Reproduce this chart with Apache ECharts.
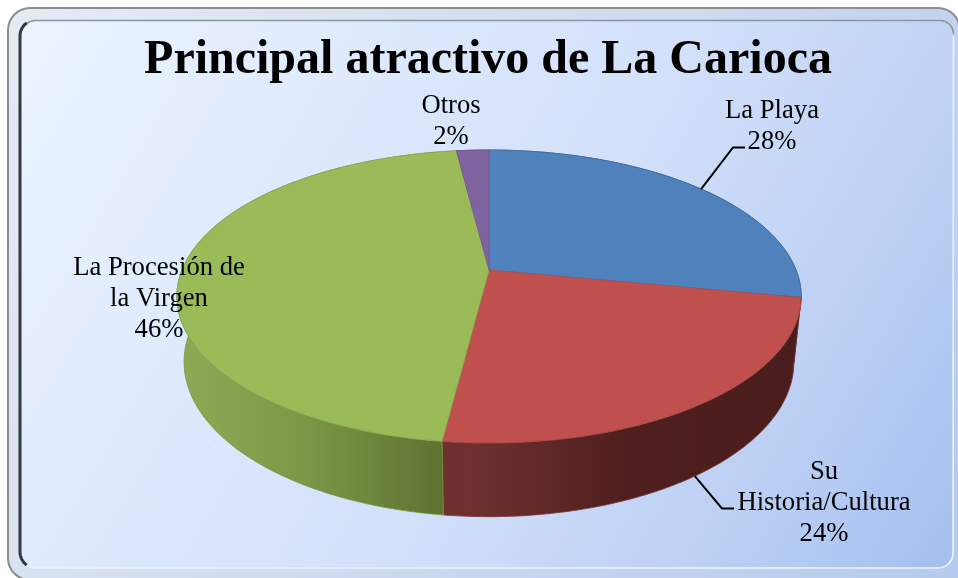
<!DOCTYPE html>
<html>
<head>
<meta charset="utf-8">
<style>html,body{margin:0;padding:0;background:#fff}#c{width:958px;height:578px}</style>
<script src="https://cdn.jsdelivr.net/npm/echarts@6/dist/echarts.min.js"></script>
</head>
<body>
<div id="c"></div>
<script>
// ---- data ----
const chartTitle = 'Principal atractivo de La Carioca';
const sliceNames = ['La Playa', 'Su\nHistoria/Cultura', 'La Procesión de\nla Virgen', 'Otros'];
const sliceValues = [28, 24, 46, 2];

// ---- styles ----
const topColors = ['#4f81bd', '#c0504d', '#9bbb59', '#8064a2'];
const edgeColors = ['#48719f', '#a84a48', '#8aa850', '#6f5a90'];
const wallStops = [
  [[0, '#2a4565'], [1, '#2a4565']],
  [[0, '#6e302e'], [0.08, '#6f312f'], [0.5, '#4f201f'], [1, '#4a1d1c']],
  [[0, '#8fa954'], [0.45, '#7f9848'], [1, '#5e7231']],
  [[0, '#44355a'], [1, '#44355a']]
];
const wallSpan = [[700, 810], [443, 800], [180, 443], [440, 490]];
const wallEdge = ['#2a4565', '#7a3533', '#78963f', '#44355a'];

// ---- layout of the tilted pie (perspective projection) ----
const P = { cx: 489, cy: 270, a: 307, b: 141.7, k: -0.181, depth: 66, m: 0.023 };
const labelLayout = [
  { x: 772, y: 126, leader: [[733, 147.5], [745, 147.5]], onWall: false },
  { x: 824, y: 502.5, leader: [[722, 508.5], [734, 508.5]], onWall: true },
  { x: 159, y: 298.5 },
  { x: 451, y: 121 }
];
const total = sliceValues.reduce((s, v) => s + v, 0);
const font = "'Liberation Serif','Times New Roman',serif";

function project(theta, z) {
  const X = Math.sin(theta), Y = -Math.cos(theta);
  const w = 1 + P.k * Y + (z ? P.m : 0);
  return [P.cx + P.a * X / w, P.cy + (P.b * Y + (z ? P.depth : 0)) / w];
}
function sliceRange(i) {
  let s = 0;
  for (let n = 0; n < i; n++) s += sliceValues[n];
  return [s / total * 2 * Math.PI, (s + sliceValues[i]) / total * 2 * Math.PI];
}
function arc(t0, t1, z) {
  const n = Math.max(2, Math.ceil((t1 - t0) / (Math.PI / 240)));
  const pts = [];
  for (let i = 0; i <= n; i++) pts.push(project(t0 + (t1 - t0) * i / n, z));
  return pts;
}

function wallItem(params, api) {
  const i = params.dataIndex;
  const [t0, t1] = sliceRange(i);
  const span = wallSpan[i];
  const points = arc(t0, t1, 0).concat(arc(t0, t1, 1).reverse());
  return {
    type: 'polygon', silent: true,
    shape: { points },
    style: {
      fill: { type: 'linear', x: span[0], y: 0, x2: span[1], y2: 0, global: true,
        colorStops: wallStops[i].map(s => ({ offset: s[0], color: s[1] })) },
      stroke: wallEdge[i], lineWidth: 0.8
    }
  };
}
function topItem(params, api) {
  const i = params.dataIndex;
  const [t0, t1] = sliceRange(i);
  const points = [[P.cx, P.cy]].concat(arc(t0, t1, 0));
  return {
    type: 'polygon', silent: true,
    shape: { points },
    style: { fill: topColors[i], stroke: edgeColors[i], lineWidth: 0.8 }
  };
}
function labelItem(params, api) {
  const i = params.dataIndex;
  const [t0, t1] = sliceRange(i);
  const L = labelLayout[i];
  const pct = Math.round(api.value(0) / total * 100) + '%';
  const children = [];
  if (L.leader) {
    const start = project((t0 + t1) / 2, L.onWall ? 1 : 0);
    children.push({
      type: 'polyline', silent: true,
      shape: { points: [start].concat(L.leader) },
      style: { stroke: '#000', lineWidth: 2, fill: null }
    });
  }
  children.push({
    type: 'text', silent: true,
    style: {
      text: sliceNames[i] + '\n' + pct, x: L.x, y: L.y,
      align: 'center', verticalAlign: 'middle',
      fontFamily: font, fontSize: 26.67, lineHeight: 31, fill: '#000'
    }
  });
  return { type: 'group', children };
}

// rounded frame corners as short point runs
function corner(cx, cy, r, a0, a1) {
  const pts = [];
  for (let i = 0; i <= 10; i++) {
    const a = (a0 + (a1 - a0) * i / 10) * Math.PI / 180;
    pts.push([cx + r * Math.cos(a), cy + r * Math.sin(a)]);
  }
  return pts;
}
const frameLine = (points, stroke, lineWidth) => ({
  type: 'polyline', silent: true, z: -8, shape: { points },
  style: { stroke, lineWidth, fill: null }
});

const panelFill = { type: 'linear', x: 20, y: 20, x2: 953, y2: 567, global: true,
  colorStops: [
    { offset: 0, color: '#ecf4ff' }, { offset: 0.25, color: '#e0ebfe' },
    { offset: 0.55, color: '#d2e0fa' }, { offset: 0.8, color: '#bcd0f4' },
    { offset: 1, color: '#a4bfee' }
  ] };
const bandFill = { type: 'linear', x: 0, y: 0, x2: 958, y2: 578, global: true,
  colorStops: [
    { offset: 0, color: '#e6ebf3' }, { offset: 0.5, color: '#cfdbf0' }, { offset: 1, color: '#b5cbee' }
  ] };

const chart = echarts.init(document.getElementById('c'), null, { renderer: 'canvas' });
chart.setOption({
  animation: false,
  backgroundColor: '#ffffff',
  title: {
    text: chartTitle, left: 483, top: 32, textAlign: 'center',
    textStyle: { fontFamily: font, fontSize: 48, fontWeight: 'bold', color: '#000' }
  },
  graphic: [
    { type: 'rect', silent: true, z: -10, shape: { x: 8, y: 8, width: 952, height: 572, r: [22, 22, 0, 22] },
      style: { fill: bandFill, stroke: '#8b8d90', lineWidth: 2 } },
    { type: 'rect', silent: true, z: -9, shape: { x: 20, y: 21, width: 933, height: 546, r: 14 },
      style: { fill: panelFill } },
    frameLine(corner(36, 36, 15.5, 230, 270).concat([[940, 20.5]], corner(940, 34, 13.5, 270, 360)), '#8e95a3', 1.6),
    frameLine(corner(36, 36, 16, 180, 235).reverse().concat(corner(36, 552, 16, 180, 125)), '#34383f', 3),
    frameLine(corner(36, 552, 16, 125, 90).concat(corner(938, 553, 15, 90, 0), [[953.5, 36]]), '#eef3fb', 1.6)
  ],
  series: [
    { type: 'custom', coordinateSystem: 'none', z: 2, silent: true, data: sliceValues, renderItem: wallItem },
    { type: 'custom', coordinateSystem: 'none', z: 3, silent: true, data: sliceValues, renderItem: topItem },
    { type: 'custom', coordinateSystem: 'none', z: 4, silent: true, data: sliceValues, renderItem: labelItem }
  ]
});
</script>
</body>
</html>
